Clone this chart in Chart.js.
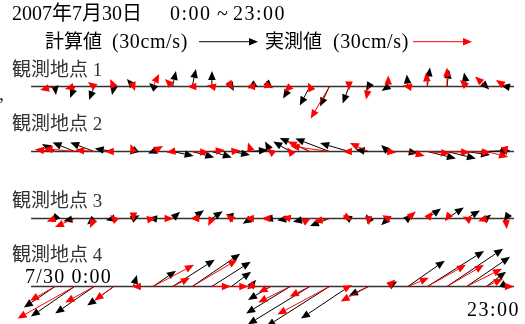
<!DOCTYPE html>
<html>
<head>
<meta charset="utf-8">
<script src="https://cdn.jsdelivr.net/npm/chart.js@4.4.1/dist/chart.umd.min.js"></script>
<style>
  html, body { margin: 0; padding: 0; background: #fff; }
</style>
</head>
<body>
<canvas id="grafica" width="525" height="324"></canvas>
<script>
// horas 0:00 .. 23:00
const horas = [0, 1, 2, 3, 4, 5, 6, 7, 8, 9, 10, 11, 12, 13, 14, 15, 16, 17, 18, 19, 20, 21, 22, 23];

const estaciones = ["観測地点 1", "観測地点 2", "観測地点 3", "観測地点 4"];
// base line of each station, in cm/s units of the y scale
const baseEstacion = [121.2, 87.7, 53.7, 19.4];

// 計算値 (calculated) and 実測値 (measured), u = east, v = north, cm/s
const calc1U = [0.5, -2.3, -2.6, -0.9, -3.3, -2.0, 1.7, 1.9, 0.1, 1.3, -1.5, 1.0, -3.6, -5.1, -4.8, -3.2, -1.3, -3.3, -0.5, 1.3, 1.0, -1.3, 1.5, -2.5];
const calc1V = [-4.3, -5.8, -6.9, -4.3, 3.8, 1.8, 7.9, 8.9, 7.9, -2.3, -1.0, -1.0, -6.1, -9.7, -10.2, -8.6, -2.3, -2.3, 6.1, 9.7, 8.6, 7.1, -1.5, 0.5];
const obs1U = [-7.6, -4.9, -3.2, -1.9, 0.8, 3.1, -3.9, -2.5, -2.5, 1.0, -2.5, 1.5, -3.1, -1.0, -9.5, 0, -1.3, 0, -2.5, -0.7, 0, -3.4, -5.7, -5.0];
const obs1V = [-1.8, -1.3, 2.3, 3.8, -2.3, 6.4, 3.8, 0, 0.5, -1.5, 0, -0.5, -2.8, 2.0, -16.3, -2.0, -6.6, 5.6, 0.5, 7.1, 9.7, 3.3, 5.1, 3.3];

const calc2U = [-6.6, -11.2, -12.2, -9.7, -2.0, -2.5, 10.7, 11.2, 10.2, 9.5, 8.6, -2.8, -8.6, -15.3, -17.3, -14.7, -6.6, -3.6, 5.1, 14.5, 14.7, 11.9, 12.2, 2.0];
const calc2V = [3.8, 4.6, 4.6, 1.5, -1.5, -1.0, -2.3, -3.1, -3.1, -1.8, 0.8, 5.1, 5.1, 6.9, 6.6, 4.3, 1.0, 3.3, -1.0, -3.6, -3.6, -1.8, 0.5, 0.5];
const obs2U = [-10.2, -15.8, -9.7, -4.6, -1.5, 5.1, -3.1, 8.6, 6.6, 4.6, -1.5, -2.0, -1.5, -11.2, -19.8, -3.1, -9.5, 4.1, 8.6, 11.5, 11.7, 12.4, 11.1, 0.5];
const obs2V = [1.0, 1.5, 0.8, 0, 3.8, 2.8, -0.5, -0.5, 0.8, 0.5, 4.6, 1.5, 2.0, 5.1, 2.8, 0, 4.3, -0.5, -2.3, -1.0, -0.5, -0.5, -2.8, -2.0];

const calc3U = [-1.7, -5.7, -3.6, -4.0, 3.1, -2.5, 3.8, 6.0, 5.5, 0.5, -4.2, -3.4, -6.6, -8.6, -9.9, -3.1, -1.3, -3.6, 2.5, 6.9, 8.6, 6.8, 2.5, -1.0];
const calc3V = [-2.0, -1.4, -3.1, -0.9, 1.7, 0.3, 3.4, 4.2, 3.7, -2.0, -2.7, -0.4, -0.9, -1.7, -3.8, 1.5, 2.2, -3.4, 2.0, 5.1, 5.6, 4.1, 2.0, -1.5];
const obs3U = [-4.2, -10.0, -2.1, -1.9, 0, 1.5, 0.5, -1.0, -1.8, -2.7, -3.1, -4.6, -4.3, 0.5, -8.1, 1.5, 0.2, -3.1, 4.1, 2.8, -1.0, -2.0, -4.1, 0.5];
const obs3V = [-1.7, -4.3, -4.8, 1.8, -1.5, 0.3, 0, 0, -3.8, 2.3, 0, 0, 0.8, 0.3, -1.7, -0.9, -3.4, 1.7, 3.6, 3.6, -1.5, 1.0, -1.4, -5.4];

const calc4U = [-15.8, -22.2, -19.8, -13.5, 1.8, 11.7, 21.4, 24.4, 19.8, 10.0, 2.5, -11.5, -22.4, -31.5, -32.0, -24.4, -10.0, 4.6, 18.8, 28.8, 28.5, 22.1, 10.1, 1.5];
const calc4V = [-10.7, -15.3, -13.7, -9.7, 5.9, 8.0, 13.6, 16.6, 12.6, 7.5, 3.4, -6.8, -13.7, -19.3, -20.3, -16.3, -4.7, 2.5, 13.1, 18.1, 19.2, 15.1, 7.5, -1.0];
const obs4U = [-12.7, -29.0, -14.7, -9.8, -0.8, 20.8, 8.8, 22.9, 9.7, 8.6, -2.0, -6.1, -16.3, -10.2, -26.4, 1.5, -14.2, 3.6, 10.7, 19.6, 18.8, 18.0, 8.5, 4.1];
const obs4V = [-7.3, -16.3, -8.1, -7.1, 0, 11.0, 4.4, 13.6, 0, 0, -1.5, -3.1, -8.1, -5.1, -14.2, 0.8, -7.6, 3.6, 4.4, 11.0, 11.0, 9.0, 3.9, 0];

const escalaLeyenda = 30; // cm/s

const series = [
    { u: calc1U, v: calc1V, est: 0, color: "#000000" },
    { u: calc2U, v: calc2V, est: 1, color: "#000000" },
    { u: calc3U, v: calc3V, est: 2, color: "#000000" },
    { u: calc4U, v: calc4V, est: 3, color: "#000000" },
    { u: obs1U, v: obs1V, est: 0, color: "#ff0000" },
    { u: obs2U, v: obs2V, est: 1, color: "#ff0000" },
    { u: obs3U, v: obs3V, est: 2, color: "#ff0000" },
    { u: obs4U, v: obs4V, est: 3, color: "#ff0000" },
];

const fuenteSerif = '"Liberation Serif", "Noto Sans CJK JP", serif';

function flecha(ctx, x0, y0, x1, y1, color) {
    const dx = x1 - x0, dy = y1 - y0;
    const len = Math.hypot(dx, dy) || 0.001;
    const ux = dx / len, uy = dy / len;
    const cabeza = 9, medio = 3.8;
    const bx = x1 - ux * cabeza, by = y1 - uy * cabeza;
    ctx.strokeStyle = color;
    ctx.fillStyle = color;
    ctx.lineWidth = 1;
    if (len > cabeza) {
        ctx.beginPath();
        ctx.moveTo(x0, y0);
        ctx.lineTo(bx, by);
        ctx.stroke();
    }
    ctx.beginPath();
    ctx.moveTo(x1, y1);
    ctx.lineTo(bx - uy * medio, by + ux * medio);
    ctx.lineTo(bx + uy * medio, by - ux * medio);
    ctx.closePath();
    ctx.fill();
}

function texto(ctx, t, x, y, size, color, spacing) {
    ctx.font = size + "px " + fuenteSerif;
    ctx.fillStyle = color;
    ctx.letterSpacing = (spacing || 0) + "px";
    ctx.fillText(t, x, y);
    ctx.letterSpacing = "0px";
}

const pluginFlechas = {
    id: "flechas",
    beforeDatasetsDraw(chart) {
        const { ctx, scales: { x, y } } = chart;
        ctx.save();
        ctx.strokeStyle = "#333";
        ctx.lineWidth = 1.5;
        baseEstacion.forEach(b => {
            const py = Math.round(y.getPixelForValue(b)) + 0.5;
            ctx.beginPath();
            ctx.moveTo(x.getPixelForValue(-1.22), py);
            ctx.lineTo(x.getPixelForValue(23.42), py);
            ctx.stroke();
        });
        ctx.restore();
    },
    afterDatasetsDraw(chart) {
        const { ctx, scales: { x, y } } = chart;
        const k = y.getPixelForValue(0) - y.getPixelForValue(1); // px per cm/s
        ctx.save();
        chart.data.datasets.forEach(ds => {
            ds.data.forEach(p => {
                const x0 = x.getPixelForValue(p.x);
                const y0 = Math.round(y.getPixelForValue(p.y)) + 0.5;
                const x1 = x0 + p.u * k;
                const y1 = y0 - p.v * k;
                flecha(ctx, x0, y0, x1, y1, ds.borderColor);
            });
        });
        // scale arrows of the legend
        flecha(ctx, 199, 41.7, 199 + escalaLeyenda * k, 41.7, "#000000");
        flecha(ctx, 413, 41.7, 413 + escalaLeyenda * k, 41.7, "#ff0000");
        ctx.restore();
    },
    afterDraw(chart) {
        const ctx = chart.ctx;
        ctx.save();
        ctx.textBaseline = "alphabetic";
        texto(ctx, "2007年7月30日", 12, 20, 20, "#000");
        texto(ctx, "0:00", 170, 20, 20, "#000", 1.5);
        texto(ctx, "~", 217, 20, 20, "#000");
        texto(ctx, "23:00", 233, 20, 20, "#000", 1.5);

        texto(ctx, "計算値", 45, 48, 19, "#000");
        texto(ctx, "(30cm/s)", 112, 48, 20, "#000", 0.6);
        texto(ctx, "実測値", 265, 48, 19, "#000");
        texto(ctx, "(30cm/s)", 333, 48, 20, "#000", 0.6);

        const yEtiqueta = [76, 130, 207, 261];
        estaciones.forEach((e, i) => texto(ctx, e, 12, yEtiqueta[i], 19, "#333"));

        texto(ctx, "7/30 0:00", 25, 283, 20, "#000", 1.2);
        texto(ctx, "23:00", 467, 316, 20, "#000", 1.5);
        texto(ctx, ",", -1, 100, 20, "#333");
        ctx.restore();
    }
};

const datasets = series.map(s => ({
    label: s.color === "#000000" ? "計算値" : "実測値",
    data: horas.map((h, i) => ({ x: h, y: baseEstacion[s.est], u: s.u[i], v: s.v[i] })),
    borderColor: s.color,
    backgroundColor: s.color,
    pointRadius: 0,
    showLine: false
}));

new Chart(document.getElementById("grafica"), {
    type: "scatter",
    data: { datasets },
    options: {
        responsive: false,
        devicePixelRatio: 1,
        animation: false,
        layout: { padding: { left: 55, right: 19.2, top: 0, bottom: 0 } },
        scales: {
            x: { type: "linear", min: 0, max: 23, display: false },
            y: { type: "linear", min: 0, max: 164.7, display: false }
        },
        plugins: {
            legend: { display: false },
            tooltip: { enabled: false }
        }
    },
    plugins: [pluginFlechas]
});
</script>
</body>
</html>
